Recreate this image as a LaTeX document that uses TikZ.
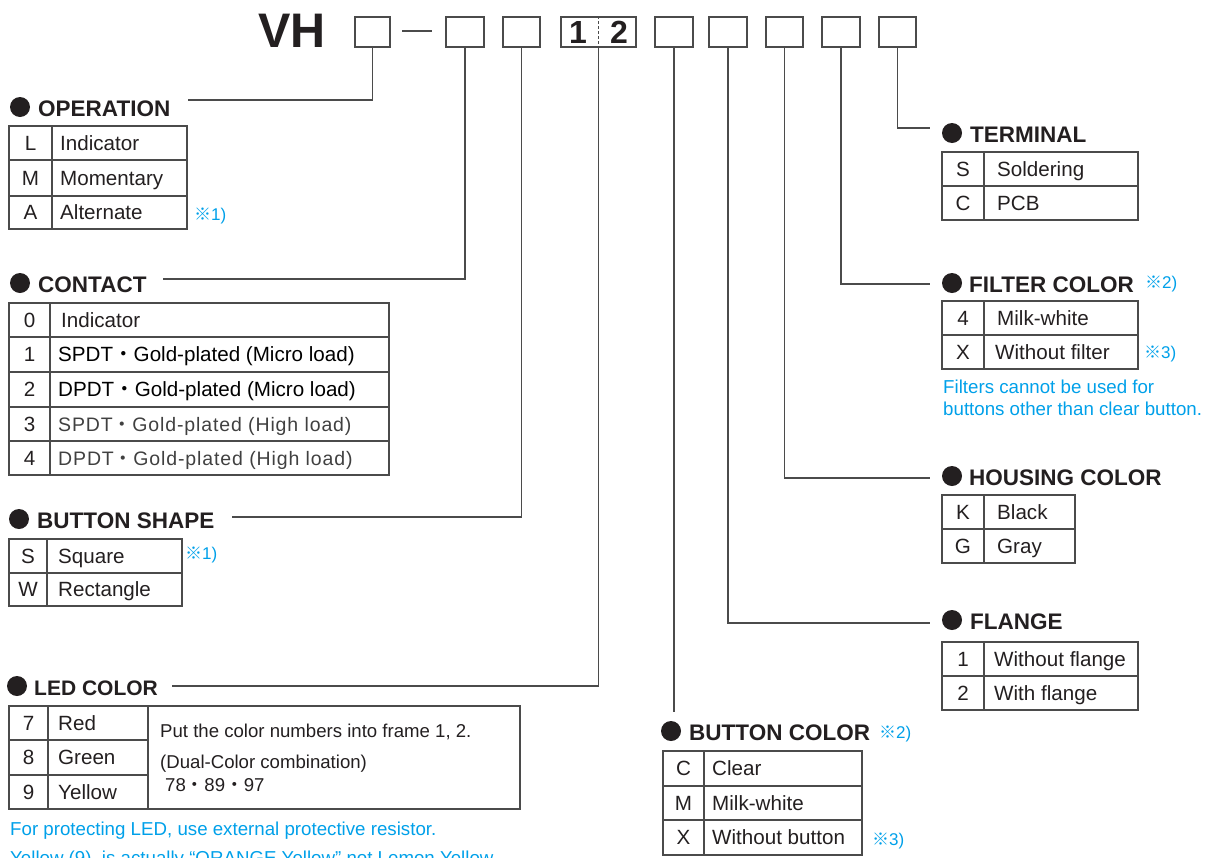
\documentclass[tikz,border=0pt]{standalone}
\usepackage{fontspec}
\setmainfont{Liberation Sans}
\newfontfamily\cjk{Noto Sans CJK JP}
\definecolor{ink}{RGB}{35,31,32}
\definecolor{note}{RGB}{0,160,233}
\definecolor{rulec}{RGB}{75,75,75}
\tikzset{
 hdr/.style={anchor=base west, inner sep=0, font=\fontsize{22.5}{26}\selectfont\bfseries, text=ink},
 cell/.style={anchor=base west, inner sep=0, font=\fontsize{20.6}{24}\selectfont, text=ink},
 key/.style={anchor=base, inner sep=0, font=\fontsize{20.6}{24}\selectfont, text=ink},
 tbl/.style={draw=rulec, line width=1.1pt},
 conn/.style={draw=rulec, line width=1.1pt},
 bulletdot/.style={circle, fill=ink, minimum size=20pt, inner sep=0},
 codebox/.style={draw=rulec, line width=1.3pt, minimum height=30pt, inner sep=0},
 notetext/.style={anchor=base west, inner sep=0, font=\fontsize{18.7}{22}\selectfont, text=note},
 refmark/.style={anchor=base west, inner sep=0, font=\fontsize{17}{20}\selectfont, text=note},
 ledcell/.style={cell, font=\fontsize{18.6}{22}\selectfont},
 highload/.style={cell, text=black!75, font=\fontsize{19.5}{24}\selectfont\addfontfeature{LetterSpace=4.5}},
}
\newcommand\kome{{\cjk ※}}
\newcommand\nakaguro{{\cjk ・}}
\begin{document}
\begin{tikzpicture}[x=1pt,y=-1pt]
\useasboundingbox (0,0) rectangle (1205,857);
% ---------- header ----------
\node[anchor=base west, inner sep=0, font=\fontsize{48.5}{50}\selectfont\bfseries, text=ink] (vh) at (258,47) {VH};
\node[codebox, minimum width=35pt] (b1) at (372.5,32) {};
\draw[rulec, line width=2.2pt] (402,31) -- (432,31);
\node[codebox, minimum width=38pt] (b2) at (465,32) {};
\node[codebox, minimum width=37pt] (b3) at (521.5,32) {};
\node[codebox, minimum width=75pt] (b12) at (598.5,32) {};
\draw[rulec, line width=1pt, dash pattern=on 3pt off 2pt] (b12.north) -- (b12.south);
\node[anchor=base, inner sep=0, font=\fontsize{32}{34}\selectfont\bfseries, text=ink] (d1) at (578,43) {1};
\node[anchor=base, inner sep=0, font=\fontsize{32}{34}\selectfont\bfseries, text=ink] (d2) at (619,43) {2};
\node[codebox, minimum width=38pt] (b5) at (674,32) {};
\node[codebox, minimum width=38pt] (b6) at (728,32) {};
\node[codebox, minimum width=37pt] (b7) at (784.5,32) {};
\node[codebox, minimum width=38pt] (b8) at (841,32) {};
\node[codebox, minimum width=37pt] (b9) at (897.5,32) {};
% ---------- connector ends ----------
\coordinate (opR) at (188,100);
\coordinate (ctR) at (163,279);
\coordinate (bsR) at (232,517);
\coordinate (ledR) at (172,686);
\coordinate (bcT) at (674,712);
\coordinate (flL) at (930,623);
\coordinate (hcL) at (930,478);
\coordinate (fcL) at (930,284);
\coordinate (teL) at (930,128);
\draw[conn] (b1.south) |- (opR);
\draw[conn] (b2.south) |- (ctR);
\draw[conn] (b3.south) |- (bsR);
\draw[conn] (b12.south) |- (ledR);
\draw[conn] (b5.south) -- (bcT);
\draw[conn] (b6.south) |- (flL);
\draw[conn] (b7.south) |- (hcL);
\draw[conn] (b8.south) |- (fcL);
\draw[conn] (b9.south) |- (teL);
% ---------- OPERATION ----------
\node[bulletdot] (opdot) at (20,107) {};
\node[hdr] (ophd) at (38,116) {OPERATION};
\draw[tbl] (9,126) rectangle (187,229);
\draw[tbl] (52,126) -- (52,229);
\foreach \y in {160,196} \draw[tbl] (9,\y) -- (187,\y);
\node[key] (opk1) at (30.5,150) {L};
\node[cell] (opv1) at (60,150) {Indicator};
\node[key] (opk2) at (30.5,185) {M};
\node[cell] (opv2) at (60,185) {Momentary};
\node[key] (opk3) at (30.5,219) {A};
\node[cell] (opv3) at (60,219) {Alternate};
\node[refmark] (opm) at (194,220) {\kome1)};
% ---------- CONTACT ----------
\node[bulletdot] (ctdot) at (20,283) {};
\node[hdr] (cthd) at (38,292) {CONTACT};
\draw[tbl] (9,303) rectangle (389,475);
\draw[tbl] (50,303) -- (50,475);
\foreach \y in {337,372,407,441} \draw[tbl] (9,\y) -- (389,\y);
\node[key] (ctk0) at (29.5,327) {0};
\node[cell] (ctv0) at (61,327) {Indicator};
\node[key] (ctk1) at (29.5,361.5) {1};
\node[cell, text=black] (ctv1) at (58,361.5) {SPDT\nakaguro Gold-plated (Micro load)};
\node[key] (ctk2) at (29.5,396.5) {2};
\node[cell, text=black] (ctv2) at (58,396.5) {DPDT\nakaguro Gold-plated (Micro load)};
\node[key] (ctk3) at (29.5,431) {3};
\node[highload] (ctv3) at (58,431) {SPDT\nakaguro Gold-plated (High load)};
\node[key] (ctk4) at (29.5,465) {4};
\node[highload] (ctv4) at (58,465) {DPDT\nakaguro Gold-plated (High load)};
% ---------- BUTTON SHAPE ----------
\node[bulletdot] (bsdot) at (19,519) {};
\node[hdr] (bshd) at (37,528) {BUTTON SHAPE};
\draw[tbl] (9,539) rectangle (182,606);
\draw[tbl] (47,539) -- (47,606);
\draw[tbl] (9,573) -- (182,573);
\node[key] (bsk1) at (28,563) {S};
\node[cell] (bsv1) at (58,563) {Square};
\node[key] (bsk2) at (28,596.5) {W};
\node[cell] (bsv2) at (58,596.5) {Rectangle};
\node[refmark] (bsm) at (185,559) {\kome1)};
% ---------- LED COLOR ----------
\node[bulletdot] (leddot) at (17,686) {};
\node[hdr, font=\fontsize{21}{24}\selectfont\bfseries] (ledhd) at (34,695) {LED COLOR};
\draw[tbl] (9,706) rectangle (520,809);
\draw[tbl] (48,706) -- (48,809);
\draw[tbl] (148,706) -- (148,809);
\foreach \y in {740,775} \draw[tbl] (9,\y) -- (148,\y);
\node[key] (ledk1) at (28.5,730) {7};
\node[cell] (ledv1) at (58,730) {Red};
\node[key] (ledk2) at (28.5,764.5) {8};
\node[cell] (ledv2) at (58,764.5) {Green};
\node[key] (ledk3) at (28.5,799) {9};
\node[cell] (ledv3) at (58,799) {Yellow};
\node[ledcell] (ledr1) at (160,737) {Put the color numbers into frame 1, 2.};
\node[ledcell] (ledr2) at (160,768) {(Dual-Color combination)};
\node[ledcell] (ledr3) at (165,791) {78\nakaguro 89\nakaguro 97};
\node[notetext] (lednote1) at (10,835) {For protecting LED, use external protective resistor.};
\node[notetext] (lednote2) at (10,864) {Yellow (9), is actually “ORANGE Yellow” not Lemon Yellow.};
% ---------- TERMINAL ----------
\node[bulletdot] (tedot) at (952,133) {};
\node[hdr] (tehd) at (970,142) {TERMINAL};
\draw[tbl] (942,152) rectangle (1138,220);
\draw[tbl] (984,152) -- (984,220);
\draw[tbl] (942,186) -- (1138,186);
\node[key] (tek1) at (963,176) {S};
\node[cell] (tev1) at (997,176) {Soldering};
\node[key] (tek2) at (963,210) {C};
\node[cell] (tev2) at (997,210) {PCB};
% ---------- FILTER COLOR ----------
\node[bulletdot] (fcdot) at (952,283) {};
\node[hdr] (fchd) at (969,292) {FILTER COLOR};
\node[refmark] (fcm) at (1145,288) {\kome2)};
\draw[tbl] (942,301) rectangle (1138,369);
\draw[tbl] (984,301) -- (984,369);
\draw[tbl] (942,335) -- (1138,335);
\node[key] (fck1) at (963,325) {4};
\node[cell] (fcv1) at (997,325) {Milk-white};
\node[key] (fck2) at (963,359) {X};
\node[cell] (fcv2) at (995,359) {Without filter};
\node[refmark] (fcm3) at (1144,358) {\kome3)};
\node[notetext] (fcn1) at (943,393) {Filters cannot be used for};
\node[notetext] (fcn2) at (943,415) {buttons other than clear button.};
% ---------- HOUSING COLOR ----------
\node[bulletdot] (hcdot) at (952,476) {};
\node[hdr] (hchd) at (969,485) {HOUSING COLOR};
\draw[tbl] (942,495) rectangle (1075,563);
\draw[tbl] (984,495) -- (984,563);
\draw[tbl] (942,529) -- (1075,529);
\node[key] (hck1) at (963,519) {K};
\node[cell] (hcv1) at (997,519) {Black};
\node[key] (hck2) at (963,553) {G};
\node[cell] (hcv2) at (997,553) {Gray};
% ---------- FLANGE ----------
\node[bulletdot] (fldot) at (952,620) {};
\node[hdr] (flhd) at (970,629) {FLANGE};
\draw[tbl] (942,642) rectangle (1138,710);
\draw[tbl] (984,642) -- (984,710);
\draw[tbl] (942,676) -- (1138,676);
\node[key] (flk1) at (963,666) {1};
\node[cell] (flv1) at (994,666) {Without flange};
\node[key] (flk2) at (963,700) {2};
\node[cell] (flv2) at (994,700) {With flange};
% ---------- BUTTON COLOR ----------
\node[bulletdot] (bcdot) at (671,731) {};
\node[hdr] (bchd) at (689,740) {BUTTON COLOR};
\node[refmark] (bcm) at (879,738) {\kome2)};
\draw[tbl] (663,751) rectangle (862,855);
\draw[tbl] (704,751) -- (704,855);
\foreach \y in {786,820} \draw[tbl] (663,\y) -- (862,\y);
\node[key] (bck1) at (683.5,775.5) {C};
\node[cell] (bcv1) at (712,775.5) {Clear};
\node[key] (bck2) at (683.5,810) {M};
\node[cell] (bcv2) at (712,810) {Milk-white};
\node[key] (bck3) at (683.5,844.5) {X};
\node[cell] (bcv3) at (712,844.5) {Without button};
\node[refmark] (bcm3) at (872,845) {\kome3)};
\end{tikzpicture}
\end{document}
